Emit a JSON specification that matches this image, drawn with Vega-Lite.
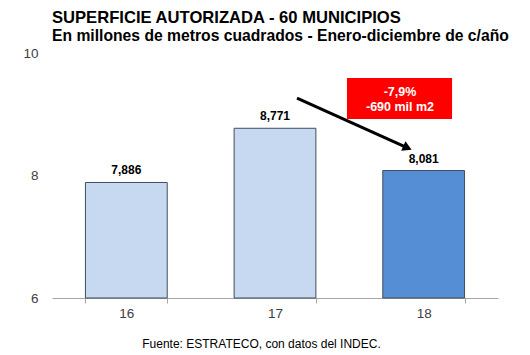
{
  "$schema": "https://vega.github.io/schema/vega-lite/v6.json",
  "width": 446,
  "height": 245,
  "autosize": {"type": "none"},
  "padding": {"left": 52, "top": 53, "right": 32, "bottom": 57},
  "background": "white",
  "config": {
    "view": {"stroke": null},
    "font": "Liberation Sans",
    "locale": {"number": {"decimal": ",", "thousands": ".", "grouping": [3], "currency": ["$", ""]}}
  },
  "title": {
    "text": "SUPERFICIE AUTORIZADA  - 60 MUNICIPIOS",
    "subtitle": "En millones de metros cuadrados - Enero-diciembre de c/año",
    "anchor": "start",
    "frame": "group",
    "font": "Liberation Sans",
    "fontSize": 16.6,
    "fontWeight": "bold",
    "color": "black",
    "subtitleFont": "Liberation Sans",
    "subtitleFontSize": 15.7,
    "subtitleFontWeight": "bold",
    "subtitleColor": "black",
    "subtitlePadding": 3,
    "offset": 2
  },
  "datasets": {
    "main": [
      {"year": "16", "value": 7.886},
      {"year": "17", "value": 8.771},
      {"year": "18", "value": 8.081}
    ],
    "arrow": [
      {"x": 17.148, "y": 9.265, "x2": 17.891, "y2": 8.451}
    ],
    "box": [
      {"x": 17.484, "x2": 18.191, "y": 9.592, "y2": 8.922}
    ],
    "boxtext": [
      {"x": 17.841, "y": 9.363, "t": "-7,9%"},
      {"x": 17.841, "y": 9.118, "t": "-690 mil m2"}
    ]
  },
  "layer": [
    {
      "data": {"name": "main"},
      "layer": [
        {
          "mark": {"type": "bar", "stroke": "#404d5c", "strokeWidth": 1},
          "encoding": {
            "x": {
              "field": "year",
              "type": "ordinal",
              "scale": {"paddingInner": 0.45, "paddingOuter": 0.225},
              "axis": {
                "title": "Fuente: ESTRATECO, con datos del INDEC.",
                "titleFontSize": 12,
                "titleFontWeight": "normal",
                "titleColor": "black",
                "titlePadding": 19,
                "titleX": 209,
                "labelAngle": 0,
                "labelFontSize": 13.5,
                "labelColor": "#404040",
                "labelPadding": 3,
                "tickBand": "extent",
                "tickSize": 5,
                "tickColor": "#a6a6a6",
                "domainColor": "#a6a6a6",
                "grid": false
              }
            },
            "y": {
              "field": "value",
              "type": "quantitative",
              "scale": {"domain": [6, 10], "nice": false, "zero": false},
              "axis": {
                "title": null,
                "values": [6, 8, 10],
                "format": "d",
                "grid": false,
                "domain": false,
                "ticks": false,
                "labelPadding": 14,
                "labelFontSize": 13.5,
                "labelColor": "#404040"
              }
            },
            "y2": {"datum": 6},
            "color": {
              "field": "year",
              "type": "nominal",
              "scale": {"domain": ["16", "17", "18"], "range": ["#c6d9f1", "#c6d9f1", "#558ed5"]},
              "legend": null
            }
          }
        },
        {
          "mark": {"type": "text", "baseline": "bottom", "dy": -5, "fontSize": 12, "fontWeight": "bold", "color": "black"},
          "encoding": {
            "x": {"field": "year", "type": "ordinal"},
            "y": {"field": "value", "type": "quantitative"},
            "text": {"field": "value", "type": "quantitative", "format": ".3f"}
          }
        }
      ]
    },
    {
      "layer": [
        {
          "data": {"name": "box"},
          "mark": {"type": "rect", "color": "#ff0000"},
          "encoding": {
            "x": {"field": "x", "type": "quantitative", "scale": {"domain": [15.5, 18.5], "nice": false, "zero": false}, "axis": null},
            "x2": {"field": "x2"},
            "y": {"field": "y", "type": "quantitative"},
            "y2": {"field": "y2"}
          }
        },
        {
          "data": {"name": "boxtext"},
          "mark": {"type": "text", "color": "white", "fontWeight": "bold", "fontSize": 12.5, "baseline": "middle"},
          "encoding": {
            "x": {"field": "x", "type": "quantitative"},
            "y": {"field": "y", "type": "quantitative"},
            "text": {"field": "t"}
          }
        },
        {
          "data": {"name": "arrow"},
          "mark": {"type": "rule", "color": "black", "strokeWidth": 3},
          "encoding": {
            "x": {"field": "x", "type": "quantitative"},
            "y": {"field": "y", "type": "quantitative"},
            "x2": {"field": "x2"},
            "y2": {"field": "y2"}
          }
        },
        {
          "data": {"name": "arrow"},
          "mark": {"type": "point", "shape": "triangle-up", "filled": true, "color": "black", "size": 110, "angle": 114, "opacity": 1},
          "encoding": {
            "x": {"field": "x2", "type": "quantitative"},
            "y": {"field": "y2", "type": "quantitative"}
          }
        }
      ]
    }
  ],
  "resolve": {"scale": {"x": "independent"}, "axis": {"x": "independent"}}
}
